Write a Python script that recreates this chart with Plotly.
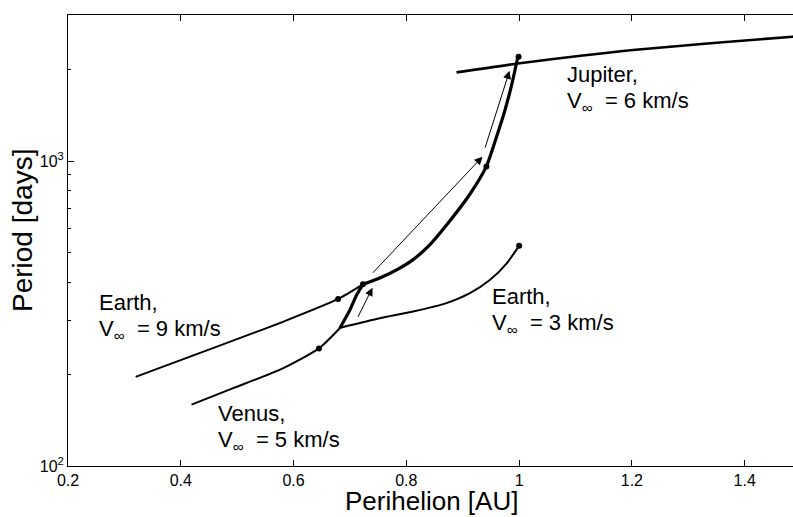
import numpy as np
import plotly.graph_objects as go

# Perihelion [AU] vs orbital period [days] reachable after each flyby
earth9_q = [0.320, 0.581, 0.679, 0.723, 0.755, 0.786, 0.812, 0.841,
            0.877, 0.912, 0.942, 0.960, 0.975, 0.986, 0.994, 0.998]
earth9_T = [196, 297, 353, 394, 415, 443, 475, 530,
            636, 775, 960, 1201, 1470, 1752, 2038, 2198]

venus5_q = [0.419, 0.493, 0.581, 0.645, 0.682, 0.700, 0.712, 0.723]
venus5_T = [159, 180, 209, 243, 283, 325, 364, 394]

earth3_q = [0.683, 0.753, 0.812, 0.871, 0.912, 0.948, 0.978, 1.000]
earth3_T = [284, 305, 321, 342, 368, 407, 462, 527]

jupiter6_q = [0.889, 1.001, 1.202, 1.485, 1.520]
jupiter6_T = [1953, 2091, 2312, 2556, 2585]

# encounter points
dots_q = [0.679, 0.723, 0.942, 0.999, 0.645, 1.000]
dots_T = [353, 394, 960, 2198, 243, 527]

# transfer arrows (tail -> head)
arrow_tail_q = [0.713, 0.738, 0.939]
arrow_tail_T = [305, 425, 1095]
arrow_head_q = [0.740, 0.935, 0.983]
arrow_head_T = [384, 1033, 1975]

x_ticks = [0.2, 0.4, 0.6, 0.8, 1.0, 1.2, 1.4]
x_ticktext = ["0.2", "0.4", "0.6", "0.8", "1", "1.2", "1.4"]
y_ticks = [100, 1000]
y_ticktext = ["10<sup>2</sup>", "10<sup>3</sup>"]
y_minor = [200, 300, 400, 500, 600, 700, 800, 900, 2000, 3000]

W, H = 793, 517
ML, MR, MT, MB = 68, 0, 15, 51
FONT = "Liberation Sans, Arial, sans-serif"


def px(xp):
    return (xp - ML) / (W - ML - MR)


def py(yp):
    return (H - MB - yp) / (H - MT - MB)


fig = go.Figure()

line_thin = dict(color="black", width=2, shape="spline", smoothing=0.6)
line_thick = dict(color="black", width=3.2, shape="spline", smoothing=0.6)

# Earth, V_inf = 9 km/s : thin below Venus' orbit, thick above
e9q = np.array(earth9_q)
e9T = np.array(earth9_T)
cut = int(np.argmax(e9q >= 0.723))
fig.add_trace(go.Scatter(x=e9q[:cut + 1], y=e9T[:cut + 1], mode="lines", line=line_thin))
fig.add_trace(go.Scatter(x=e9q[cut:], y=e9T[cut:], mode="lines", line=line_thick))

# Venus, V_inf = 5 km/s : thick over the last stretch
v5q = np.array(venus5_q)
v5T = np.array(venus5_T)
vcut = int(np.argmax(v5q >= 0.682))
fig.add_trace(go.Scatter(x=v5q[:vcut + 1], y=v5T[:vcut + 1], mode="lines", line=line_thin))
fig.add_trace(go.Scatter(x=v5q[vcut:], y=v5T[vcut:], mode="lines", line=line_thick))

# Earth, V_inf = 3 km/s
fig.add_trace(go.Scatter(x=earth3_q, y=earth3_T, mode="lines", line=line_thin))

# Jupiter, V_inf = 6 km/s
fig.add_trace(go.Scatter(x=jupiter6_q, y=jupiter6_T, mode="lines",
                         line=dict(color="black", width=2.6, shape="spline", smoothing=0.6)))

# encounter dots
fig.add_trace(go.Scatter(x=dots_q, y=dots_T, mode="markers",
                         marker=dict(color="black", size=6)))

# transfer arrows
for tq, tT, hq, hT in zip(arrow_tail_q, arrow_tail_T, arrow_head_q, arrow_head_T):
    fig.add_annotation(x=hq, y=np.log10(hT), ax=tq, ay=np.log10(tT),
                       xref="x", yref="y", axref="x", ayref="y",
                       showarrow=True, arrowhead=2, arrowsize=1.6,
                       arrowwidth=1, arrowcolor="black", text="")

# curve labels
labels = [
    (97, 288, "Earth,"), (97, 314, "V<sub>∞</sub>  = 9 km/s"),
    (216, 399, "Venus,"), (216, 425, "V<sub>∞</sub>  = 5 km/s"),
    (490, 282, "Earth,"), (490, 308, "V<sub>∞</sub>  = 3 km/s"),
    (565, 60, "Jupiter,"), (565, 86, "V<sub>∞</sub>  = 6 km/s"),
]
for xp, yp, txt in labels:
    fig.add_annotation(x=px(xp), y=py(yp), xref="paper", yref="paper",
                       xanchor="left", yanchor="top", text=txt, showarrow=False,
                       font=dict(family=FONT, size=22, color="black"))

# axis titles
fig.add_annotation(x=px(432), y=py(501), xref="paper", yref="paper",
                   xanchor="center", yanchor="middle", text="Perihelion [AU]",
                   showarrow=False, font=dict(family=FONT, size=26, color="black"))
fig.add_annotation(x=px(23), y=py(231), xref="paper", yref="paper",
                   xanchor="center", yanchor="middle", text="Period [days]",
                   textangle=-90, showarrow=False,
                   font=dict(family=FONT, size=28, color="black"))

fig.update_layout(
    width=W, height=H,
    margin=dict(l=ML, r=MR, t=MT, b=MB, pad=0),
    paper_bgcolor="white", plot_bgcolor="white",
    showlegend=False,
    font=dict(family=FONT, color="black"),
    xaxis=dict(
        range=[0.2, 0.2 + (W - ML - MR) / 563.9],
        tickvals=x_ticks, ticktext=x_ticktext,
        ticks="inside", ticklen=6, tickcolor="black", tickwidth=1,
        showline=True, linecolor="black", linewidth=1, mirror="ticks",
        showgrid=False, zeroline=False,
        tickfont=dict(family=FONT, size=16, color="black"),
    ),
    yaxis=dict(
        type="log",
        range=[2, 2 + (H - MT - MB) / 305.0],
        tickvals=y_ticks, ticktext=y_ticktext,
        ticks="inside", ticklen=6, tickcolor="black", tickwidth=1,
        minor=dict(tickvals=y_minor, ticks="inside", ticklen=3,
                   tickcolor="black", showgrid=False),
        showline=True, linecolor="black", linewidth=1,
        showgrid=False, zeroline=False,
        tickfont=dict(family=FONT, size=16, color="black"),
    ),
)

fig.write_html("out.html")
